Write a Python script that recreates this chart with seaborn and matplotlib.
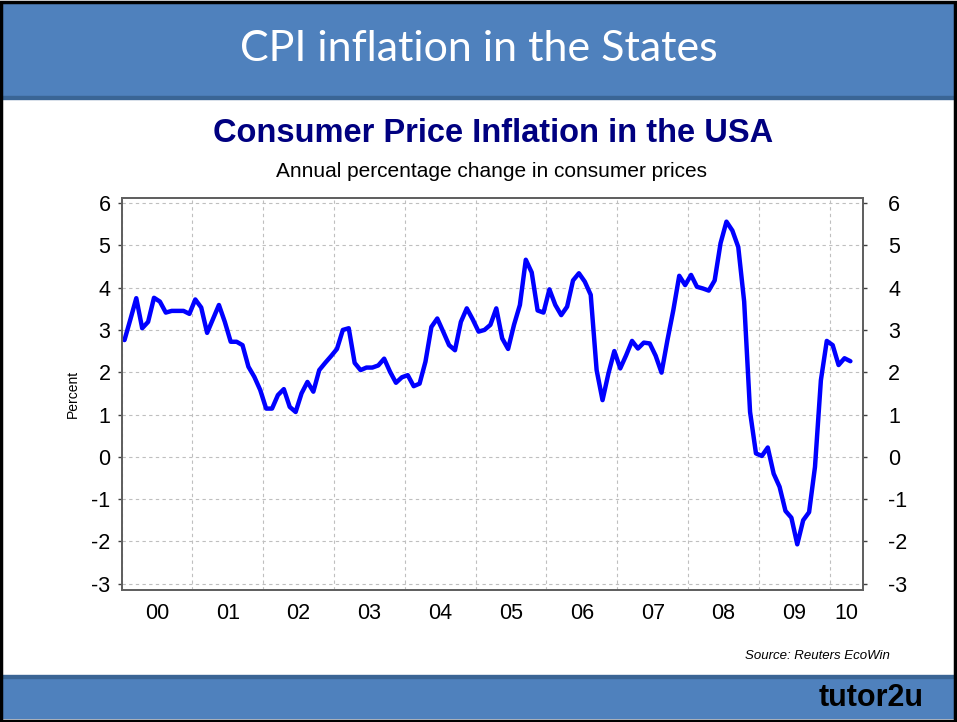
import numpy as np
import pandas as pd
import matplotlib
matplotlib.use("Agg")
import matplotlib.pyplot as plt
import seaborn as sns
from matplotlib.patches import Rectangle

# US CPI inflation, % change on a year earlier, monthly Jan 2000 - Apr 2010
cpi_2000 = [2.76, 3.25, 3.75, 3.04, 3.19, 3.76, 3.67, 3.41, 3.45, 3.45, 3.45, 3.38]
cpi_2001 = [3.72, 3.53, 2.93, 3.26, 3.59, 3.19, 2.72, 2.72, 2.64, 2.13, 1.89, 1.58]
cpi_2002 = [1.14, 1.14, 1.46, 1.60, 1.18, 1.06, 1.50, 1.77, 1.54, 2.05, 2.22, 2.38]
cpi_2003 = [2.55, 3.00, 3.04, 2.22, 2.05, 2.11, 2.11, 2.16, 2.32, 2.01, 1.75, 1.88]
cpi_2004 = [1.93, 1.67, 1.73, 2.25, 3.07, 3.27, 2.96, 2.64, 2.52, 3.19, 3.51, 3.25]
cpi_2005 = [2.96, 3.00, 3.12, 3.51, 2.80, 2.55, 3.12, 3.59, 4.66, 4.36, 3.46, 3.41]
cpi_2006 = [3.96, 3.59, 3.35, 3.55, 4.17, 4.34, 4.14, 3.83, 2.05, 1.34, 1.97, 2.50]
cpi_2007 = [2.09, 2.40, 2.74, 2.56, 2.70, 2.68, 2.39, 1.99, 2.76, 3.47, 4.28, 4.06]
cpi_2008 = [4.30, 4.02, 3.98, 3.93, 4.17, 5.05, 5.56, 5.35, 4.96, 3.67, 1.06, 0.08]
cpi_2009 = [0.02, 0.22, -0.40, -0.71, -1.28, -1.44, -2.07, -1.50, -1.31, -0.24, 1.81, 2.74]
cpi_2010 = [2.64, 2.17, 2.33, 2.26]

year_labels = ["00", "01", "02", "03", "04", "05", "06", "07", "08", "09", "10"]
y_ticks = [-3, -2, -1, 0, 1, 2, 3, 4, 5, 6]

values = (cpi_2000 + cpi_2001 + cpi_2002 + cpi_2003 + cpi_2004 + cpi_2005
          + cpi_2006 + cpi_2007 + cpi_2008 + cpi_2009 + cpi_2010)
months = np.arange(len(values))
df = pd.DataFrame({"t": 2000 + (months + 0.5) / 12, "cpi": values})

sns.set_style("white")
plt.rcParams["font.family"] = ["Liberation Sans", "DejaVu Sans"]

fig = plt.figure(figsize=(9.57, 7.22), dpi=100)
fig.patch.set_facecolor("white")

# slide decoration: header and footer bands
band = "#4F81BD"
fig.patches.append(Rectangle((0, 0.8657), 1, 0.130, transform=fig.transFigure, color=band, zorder=0))
fig.patches.append(Rectangle((0, 0.8630), 1, 0.004, transform=fig.transFigure, color="#3A6595", zorder=0))
fig.patches.append(Rectangle((0, 0.0055), 1, 0.058, transform=fig.transFigure, color=band, zorder=0))
fig.patches.append(Rectangle((0, 0.0615), 1, 0.004, transform=fig.transFigure, color="#3A6595", zorder=0))
fig.patches.append(Rectangle((0.001, 0.002), 0.997, 0.995, transform=fig.transFigure,
                             fill=False, edgecolor="black", lw=2.5, zorder=5))

fig.text(0.5, 0.932, "CPI inflation in the States", ha="center", va="center",
         color="white", fontsize=31, family=["Lato", "DejaVu Sans"])
fig.text(0.515, 0.815, "Consumer Price Inflation in the USA", ha="center", va="center",
         color="#000080", fontsize=23.5, fontweight="bold")
fig.text(0.514, 0.763, "Annual percentage change in consumer prices", ha="center", va="center",
         color="black", fontsize=15)
fig.text(0.93, 0.092, "Source: Reuters EcoWin", ha="right", va="center",
         fontsize=9.5, style="italic", color="black")
fig.text(0.965, 0.033, "tutor2u", ha="right", va="center", fontsize=22,
         fontweight="bold", color="black")

ax = fig.add_axes([0.127, 0.1828, 0.7748, 0.543])
sns.lineplot(data=df, x="t", y="cpi", ax=ax, color="#0000FF", lw=3.2)

ax.set_xlim(2000, 2010.47)
ax.set_ylim(-3.15, 6.12)

ax.set_xticks(np.arange(2000, 2011))
ax.set_xticklabels([])
ax.set_xticks([2000.5 + i for i in range(10)] + [2010.24], minor=True)
ax.set_xticklabels(year_labels, minor=True)
ax.set_yticks(y_ticks)
ax.set_yticklabels([str(v) for v in y_ticks])

ax.tick_params(axis="x", which="major", direction="out", length=5, color="#404040", width=1)
ax.tick_params(axis="x", which="minor", length=0, labelsize=15.5, pad=9, labelcolor="black")
ax.tick_params(axis="y", which="major", direction="out", length=3, color="#404040", width=1,
               labelsize=15.5, pad=5, labelcolor="black")

# right-hand copy of the value axis
ax2 = ax.twinx()
ax2.set_ylim(ax.get_ylim())
ax2.set_yticks(y_ticks)
ax2.set_yticklabels([str(v) for v in y_ticks])
ax2.tick_params(axis="y", direction="out", length=3, color="#404040", width=1,
                labelsize=15.5, pad=15, labelcolor="black")

ax.grid(True, which="major", color="#BFBFBF", linestyle=(0, (3, 3)), lw=0.8)
for a in (ax, ax2):
    for s in a.spines.values():
        s.set_color("#606060")
        s.set_linewidth(1.3)

ax.set_xlabel("")
ax.set_ylabel("Percent", fontsize=10, color="black")
ax.yaxis.set_label_coords(-0.056, 0.5)

fig.savefig("out.png", dpi=100)
